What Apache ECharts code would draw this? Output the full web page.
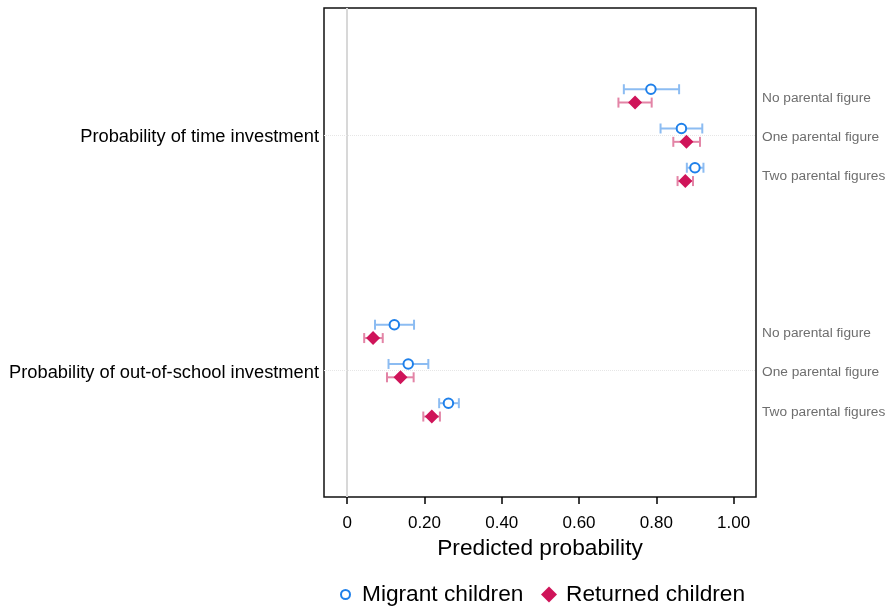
<!DOCTYPE html>
<html>
<head>
<meta charset="utf-8">
<script src="https://cdn.jsdelivr.net/npm/echarts@6/dist/echarts.min.js"></script>
<style>html,body{margin:0;padding:0;background:#fff;}#c{width:891px;height:606px;}</style>
</head>
<body>
<div id="c"></div>
<script>
const groups = ['Probability of time investment', 'Probability of out-of-school investment'];
const subgroups = ['No parental figure', 'One parental figure', 'Two parental figures'];
const xTicks = [0, 0.2, 0.4, 0.6, 0.8, 1.0];
const migrantMean = [0.786, 0.865, 0.900, 0.122, 0.158, 0.262];
const migrantLow  = [0.716, 0.811, 0.879, 0.072, 0.107, 0.238];
const migrantHigh = [0.859, 0.919, 0.922, 0.173, 0.210, 0.289];
const returnedMean = [0.745, 0.878, 0.875, 0.067, 0.138, 0.219];
const returnedLow  = [0.702, 0.844, 0.855, 0.044, 0.103, 0.197];
const returnedHigh = [0.788, 0.913, 0.895, 0.092, 0.172, 0.240];

const FONT = '"Liberation Sans", Arial, Helvetica, sans-serif';
const OFF = 0.17;
const rows = [];
const rightLabels = {};
const leftLabels = {};
groups.forEach((g, gi) => {
  leftLabels[gi * 6 + 2] = g;
  subgroups.forEach((s, si) => {
    const r = gi * 6 + si + 1;
    rows.push(r);
    rightLabels[r] = s;
  });
});

const migPts = migrantMean.map((v, i) => [v, rows[i] - OFF]);
const retPts = returnedMean.map((v, i) => [v, rows[i] + OFF]);
const migBars = migrantLow.map((v, i) => [v, migrantHigh[i], rows[i] - OFF]);
const retBars = returnedLow.map((v, i) => [v, returnedHigh[i], rows[i] + OFF]);

function errRender(color) {
  return function (params, api) {
    const a = api.coord([api.value(0), api.value(2)]);
    const b = api.coord([api.value(1), api.value(2)]);
    const h = 5;
    const st = { stroke: color, lineWidth: 2 };
    return {
      type: 'group',
      children: [
        { type: 'line', shape: { x1: a[0], y1: a[1], x2: b[0], y2: b[1] }, style: st },
        { type: 'line', shape: { x1: a[0], y1: a[1] - h, x2: a[0], y2: a[1] + h }, style: st },
        { type: 'line', shape: { x1: b[0], y1: b[1] - h, x2: b[0], y2: b[1] + h }, style: st }
      ]
    };
  };
}

const YMIN = -1.24, YMAX = 11.22;
const LBL_SHIFT = 0.05;
const chart = echarts.init(document.getElementById('c'), null, { renderer: 'canvas' });
chart.setOption({
  animation: false,
  backgroundColor: '#fff',
  textStyle: { fontFamily: FONT },
  grid: { left: 324, right: 135, top: 8, bottom: 109, show: true, borderColor: '#111', borderWidth: 1.5, backgroundColor: 'transparent' },
  legend: [
    { left: 340, top: 583, padding: 0, itemWidth: 23, itemHeight: 9, symbolKeepAspect: true,
      textStyle: { fontFamily: FONT, fontSize: 22.7, color: '#000' },
      data: ['Migrant children'] },
    { left: 541, top: 583, padding: 0, itemWidth: 16, itemHeight: 16, symbolKeepAspect: true,
      textStyle: { fontFamily: FONT, fontSize: 22.7, color: '#000', padding: [0, 0, 0, 4] },
      data: ['Returned children'] }
  ],
  xAxis: {
    type: 'value', min: -0.06, max: 1.058,
    axisLine: { show: false, onZero: false },
    splitLine: { show: false },
    axisTick: { show: true, customValues: xTicks, length: 7, lineStyle: { color: '#000', width: 1.5 } },
    axisLabel: { customValues: xTicks, fontSize: 17, color: '#000', margin: 18, fontFamily: FONT,
      formatter: v => (v === 0 ? '0' : v.toFixed(2)) },
    name: 'Predicted probability', nameLocation: 'middle', nameGap: 39,
    nameTextStyle: { fontSize: 22.7, color: '#000', fontFamily: FONT }
  },
  yAxis: [
    { type: 'value', inverse: true, min: YMIN, max: YMAX, show: false },
    { type: 'value', inverse: true, min: YMIN - LBL_SHIFT, max: YMAX - LBL_SHIFT, position: 'left',
      axisLine: { show: false, onZero: false }, splitLine: { show: false },
      axisTick: { show: false },
      axisLabel: { customValues: Object.keys(leftLabels).map(Number), fontSize: 18.3, color: '#000', margin: 5, fontFamily: FONT,
        formatter: v => leftLabels[v] || '' } },
    { type: 'value', inverse: true, min: YMIN - LBL_SHIFT, max: YMAX - LBL_SHIFT, position: 'right',
      axisLine: { show: false, onZero: false }, splitLine: { show: false },
      axisTick: { show: false },
      axisLabel: { customValues: rows, fontSize: 13.7, color: '#6e6e6e', margin: 6, fontFamily: FONT,
        formatter: v => rightLabels[v] || '' } }
  ],
  series: [
    { type: 'custom', name: 'mci', renderItem: errRender('#8cbcf2'), data: migBars, z: 3,
      encode: { x: [0, 1], y: 2 },
      markLine: {
        silent: true, symbol: 'none', label: { show: false },
        lineStyle: { color: '#d8d8d8', width: 2, type: 'solid' },
        data: [{ xAxis: 0 }]
      } },
    { type: 'custom', name: 'rci', renderItem: errRender('#e384a6'), data: retBars, z: 3,
      encode: { x: [0, 1], y: 2 },
      markLine: {
        silent: true, symbol: 'none', label: { show: false },
        lineStyle: { color: '#e6e6e6', width: 1, type: 'dotted' },
        data: Object.keys(leftLabels).map(k => ({ yAxis: Number(k) }))
      } },
    { type: 'scatter', name: 'Migrant children', data: migPts, symbol: 'circle', symbolSize: 9.5, z: 5,
      itemStyle: { color: '#fff', borderColor: '#1f80ea', borderWidth: 2, opacity: 1 } },
    { type: 'scatter', name: 'Returned children', data: retPts, symbol: 'diamond', symbolSize: 14, z: 5,
      symbolKeepAspect: true,
      itemStyle: { color: '#cf1459', opacity: 1 } }
  ]
});
</script>
</body>
</html>
